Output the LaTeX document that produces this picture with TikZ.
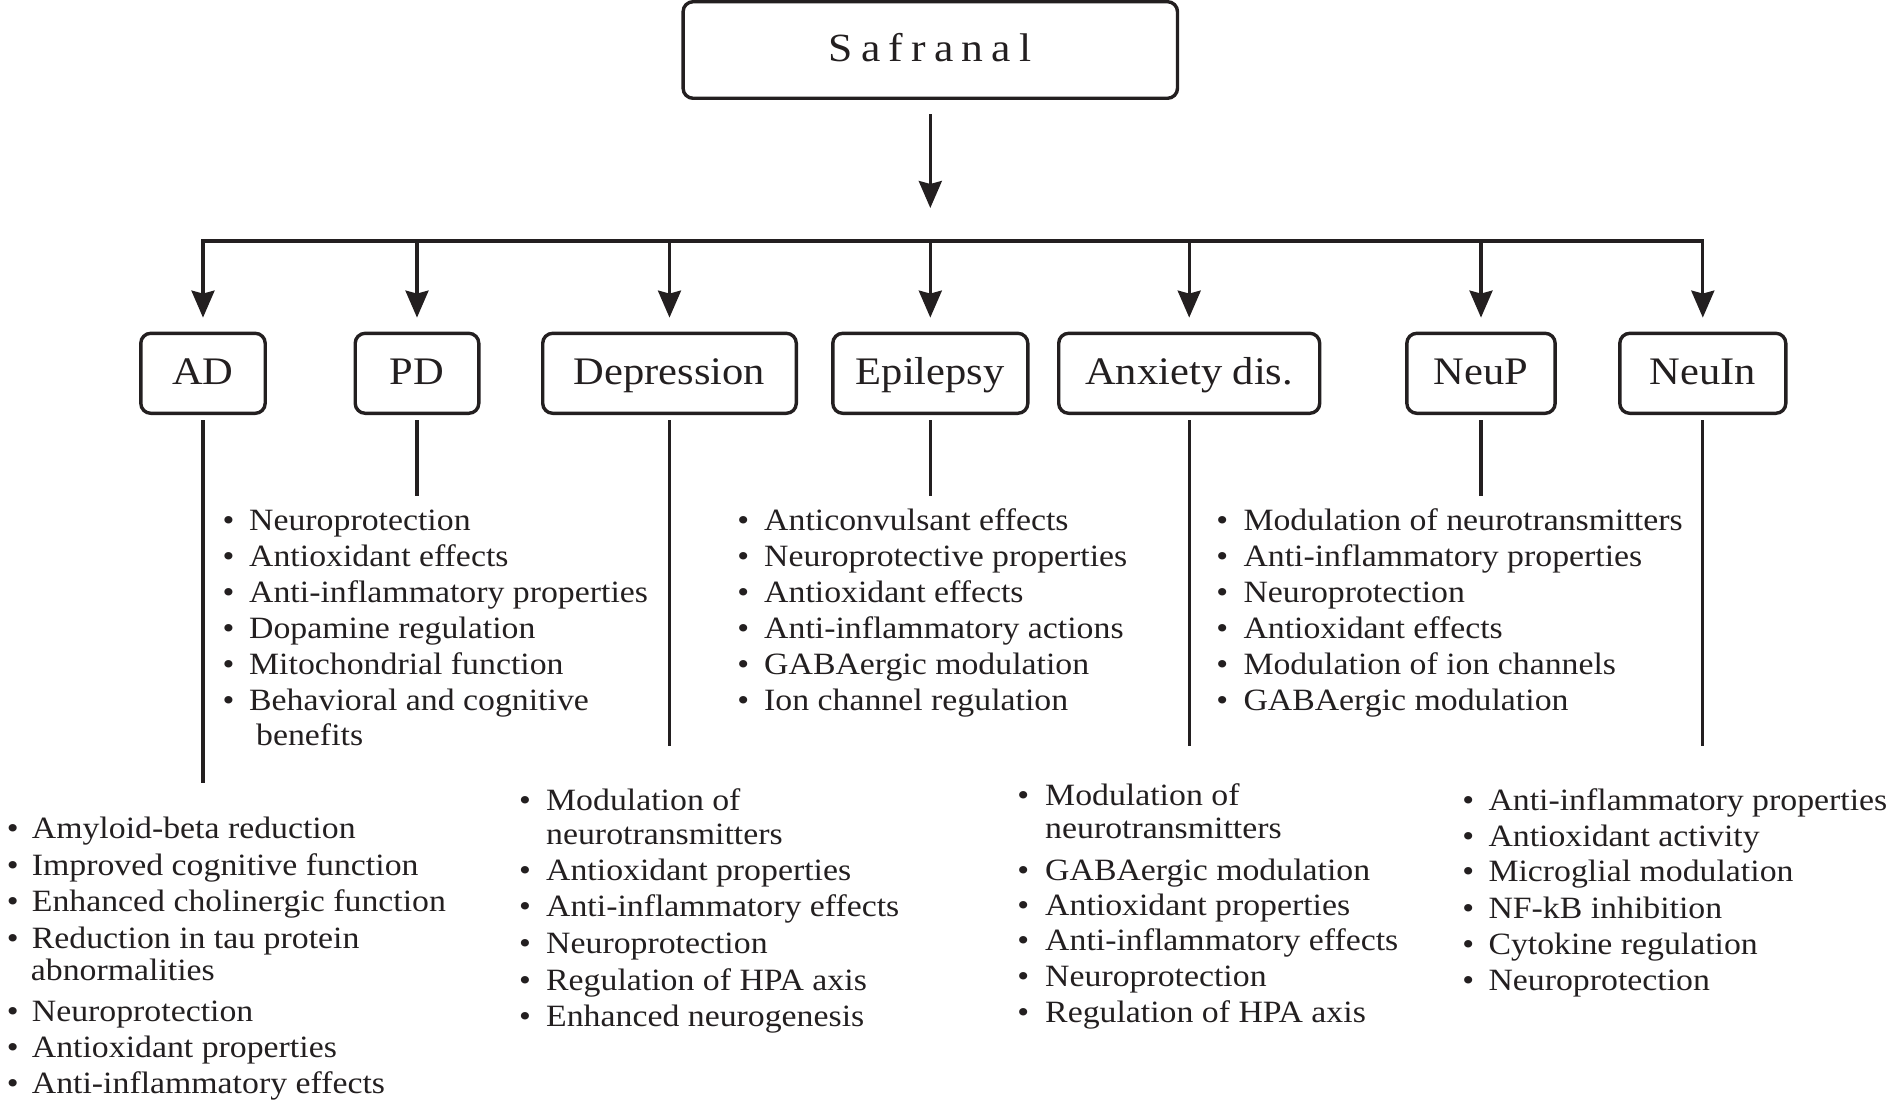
\documentclass[tikz,border=0pt]{standalone}
\usepackage{fontspec}
\setmainfont{Liberation Serif}[FakeStretch=1.09]
\usetikzlibrary{arrows.meta,calc}
\definecolor{ink}{RGB}{35,31,32}
\newcommand\bitem[5]{\node[bul] (#1b) at (#2,#4) {•}; \node[itm] (#1) at (#3,#4) {#5};}
\newcommand\citem[4]{\node[itm] (#1) at (#2,#3) {#4};}
\begin{document}
\begin{tikzpicture}[x=1pt,y=-1pt,
  box/.style={draw=ink, line width=3.4pt, rounded corners=10pt, inner sep=0pt,
    minimum height=80pt, text height=21.4pt, text depth=0pt, text=ink,
    font=\fontsize{39}{41}\selectfont},
  ln/.style={draw=ink, line width=3.1pt},
  arr/.style={ln, -{Stealth[length=27pt,width=23pt,inset=3pt]}},
  itm/.style={anchor=base west, inner sep=0pt, text=ink, font=\fontsize{31}{33}\selectfont},
  bul/.style={anchor=base, inner sep=0pt, text=ink, font=\fontsize{31}{33}\selectfont}]
\useasboundingbox (0,0) rectangle (1890,1105);

% top box
\node[box, minimum width=494.4pt, minimum height=96.6pt, text height=23.4pt,
  font=\fontsize{40}{42}\selectfont] (saf) at (930.3,50)
  {S\hspace{8.2pt}a\hspace{8.2pt}f\hspace{8.2pt}r\hspace{8.2pt}a\hspace{8.2pt}n\hspace{8.2pt}a\hspace{8.2pt}l};

% bar coordinates
\coordinate (d1) at (203,241);
\coordinate (d2) at (417,241);
\coordinate (d3) at (669.5,241);
\coordinate (hub) at (930.3,241);
\coordinate (d5) at (1189.2,241);
\coordinate (d6) at (1481,241);
\coordinate (d7) at (1702.8,241);

% category boxes
\node[box, minimum width=124.4pt] (ad) at (203,373.3) {AD};
\node[box, minimum width=123.6pt] (pd) at (417,373.3) {PD};
\node[box, minimum width=253.6pt] (dep) at (669.5,373.3) {Depression};
\node[box, minimum width=195pt] (epi) at (930.3,373.3) {Epilepsy};
\node[box, minimum width=261pt] (anx) at (1189.2,373.3) {Anxiety dis.};
\node[box, minimum width=148.3pt] (neup) at (1481,373.3) {NeuP};
\node[box, minimum width=166pt] (neuin) at (1702.8,373.3) {NeuIn};

% connectors
\draw[arr, shorten <=14.4pt, shorten >=33pt] (saf.south) -- (hub);
\draw[ln, line cap=rect] (d1) -- (d7);
\draw[arr, shorten >=14pt] (d1) -- (ad.north);
\draw[arr, shorten >=14pt] (d2) -- (pd.north);
\draw[arr, shorten >=14pt] (d3) -- (dep.north);
\draw[arr, shorten >=14pt] (hub) -- (epi.north);
\draw[arr, shorten >=14pt] (d5) -- (anx.north);
\draw[arr, shorten >=14pt] (d6) -- (neup.north);
\draw[arr, shorten >=14pt] (d7) -- (neuin.north);

\coordinate (adend) at (203,783);
\coordinate (pdend) at (417,496);
\coordinate (depend) at (669.5,745.7);
\coordinate (epiend) at (930.3,496);
\coordinate (anxend) at (1189.2,745.7);
\coordinate (neupend) at (1481,496);
\coordinate (neuinend) at (1702.8,745.7);
\draw[ln, shorten <=5.2pt] (ad.south) -- (adend);
\draw[ln, shorten <=5.2pt] (pd.south) -- (pdend);
\draw[ln, shorten <=5.2pt] (dep.south) -- (depend);
\draw[ln, shorten <=5.2pt] (epi.south) -- (epiend);
\draw[ln, shorten <=5.2pt] (anx.south) -- (anxend);
\draw[ln, shorten <=5.2pt] (neup.south) -- (neupend);
\draw[ln, shorten <=5.2pt] (neuin.south) -- (neuinend);

% PD list
\bitem{pd1}{228.6}{249}{530.5}{Neuroprotection}
\bitem{pd2}{228.6}{249}{566.7}{Antioxidant effects}
\bitem{pd3}{228.6}{249}{602.3}{Anti-inflammatory properties}
\bitem{pd4}{228.6}{249}{638.4}{Dopamine regulation}
\bitem{pd5}{228.6}{249}{674.5}{Mitochondrial function}
\bitem{pd6}{228.6}{249}{710.8}{Behavioral and cognitive}
\citem{pd6c}{256}{745}{benefits}

% Epilepsy list
\bitem{ep1}{743.3}{764}{530.5}{Anticonvulsant effects}
\bitem{ep2}{743.3}{764}{566.7}{Neuroprotective properties}
\bitem{ep3}{743.3}{764}{602.3}{Antioxidant effects}
\bitem{ep4}{743.3}{764}{638.4}{Anti-inflammatory actions}
\bitem{ep5}{743.3}{764}{674.5}{GABAergic modulation}
\bitem{ep6}{743.3}{764}{710.8}{Ion channel regulation}

% NeuP list
\bitem{np1}{1222.3}{1243.3}{530.5}{Modulation of neurotransmitters}
\bitem{np2}{1222.3}{1243.3}{566.7}{Anti-inflammatory properties}
\bitem{np3}{1222.3}{1243.3}{602.3}{Neuroprotection}
\bitem{np4}{1222.3}{1243.3}{638.4}{Antioxidant effects}
\bitem{np5}{1222.3}{1243.3}{674.5}{Modulation of ion channels}
\bitem{np6}{1222.3}{1243.3}{710.8}{GABAergic modulation}

% AD list
\bitem{ad1}{12.7}{31.7}{838.3}{Amyloid-beta reduction}
\bitem{ad2}{12.7}{31.7}{875}{Improved cognitive function}
\bitem{ad3}{12.7}{31.7}{911.7}{Enhanced cholinergic function}
\bitem{ad4}{12.7}{31.7}{948}{Reduction in tau protein}
\citem{ad4c}{30.7}{980}{abnormalities}
\bitem{ad5}{12.7}{31.7}{1021.7}{Neuroprotection}
\bitem{ad6}{12.7}{31.7}{1057.7}{Antioxidant properties}
\bitem{ad7}{12.7}{31.7}{1093}{Anti-inflammatory effects}

% Depression list
\bitem{dp1}{525}{546}{810}{Modulation of}
\citem{dp1c}{546}{844}{neurotransmitters}
\bitem{dp2}{525}{546}{880}{Antioxidant properties}
\bitem{dp3}{525}{546}{916.7}{Anti-inflammatory effects}
\bitem{dp4}{525}{546}{953.3}{Neuroprotection}
\bitem{dp5}{525}{546}{990}{Regulation of HPA axis}
\bitem{dp6}{525}{546}{1026.7}{Enhanced neurogenesis}

% Anxiety list
\bitem{ax1}{1023.3}{1045}{805}{Modulation of}
\citem{ax1c}{1045}{838.3}{neurotransmitters}
\bitem{ax2}{1023.3}{1045}{880}{GABAergic modulation}
\bitem{ax3}{1023.3}{1045}{915}{Antioxidant properties}
\bitem{ax4}{1023.3}{1045}{950.7}{Anti-inflammatory effects}
\bitem{ax5}{1023.3}{1045}{986.7}{Neuroprotection}
\bitem{ax6}{1023.3}{1045}{1022.7}{Regulation of HPA axis}

% NeuIn list
\bitem{ni1}{1468.3}{1488.3}{810}{Anti-inflammatory properties}
\bitem{ni2}{1468.3}{1488.3}{846}{Antioxidant activity}
\bitem{ni3}{1468.3}{1488.3}{881.7}{Microglial modulation}
\bitem{ni4}{1468.3}{1488.3}{918.3}{NF-kB inhibition}
\bitem{ni5}{1468.3}{1488.3}{954}{Cytokine regulation}
\bitem{ni6}{1468.3}{1488.3}{990}{Neuroprotection}
\end{tikzpicture}
\end{document}
